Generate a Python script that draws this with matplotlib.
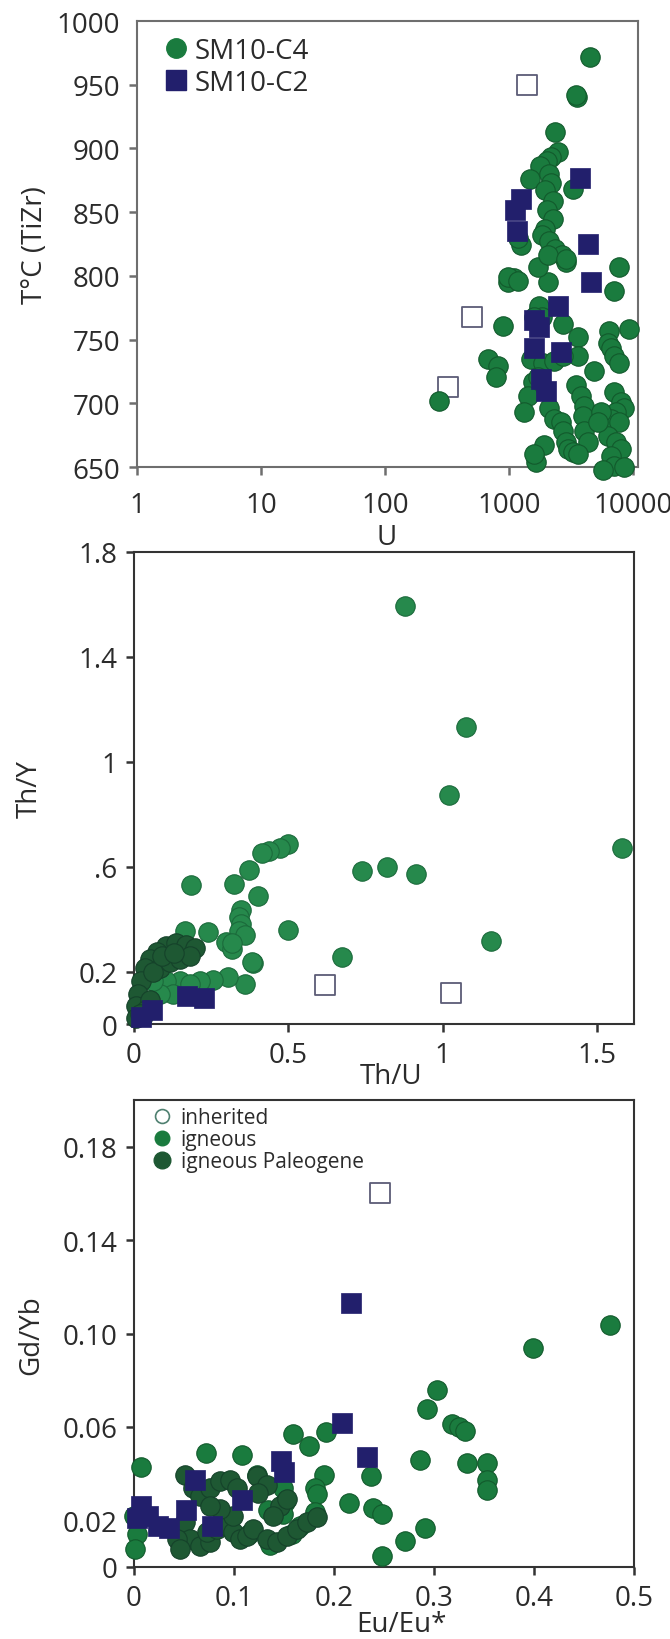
import matplotlib
matplotlib.use("Agg")
import matplotlib.pyplot as plt
from matplotlib.lines import Line2D
from matplotlib.ticker import NullLocator, FixedLocator, FixedFormatter

plt.rcParams['font.family'] = ['Open Sans', 'DejaVu Sans']

# ---------------- data ----------------
# Panel A: Ti-in-zircon temperature vs U (ppm)
c4_u = [4490, 3530, 3450, 2335, 2467, 2190, 2022, 1795, 1493, 2104, 2190, 1943, 3266,
        2280, 2022, 2280, 1943, 1866, 2104, 2371, 2673, 2897, 1253, 1180,
        985, 1097, 980, 1180, 2065, 1715, 2065, 2880, 7740, 7050,
        1715, 1745, 1860, 1590, 2730, 893, 3600, 9310,
        6430, 6310, 6670, 7050, 7740, 4860, 3600,
        675, 813, 783, 1500, 1880, 2310, 2730,
        1560, 1710, 1420, 1320, 271, 2100, 2310,
        3470, 3810, 4040, 3960, 4040, 4350,
        7050, 8030, 8490, 7310, 6670, 7740, 6310, 7310, 8030, 6670, 7050, 8490, 5740, 5530, 5240,
        2630, 2730, 2880, 2990, 3290, 3600, 1915, 1650, 1590]
c4_t = [972, 940, 942, 913, 897, 893, 890, 886, 876, 880, 873, 867, 868,
        859, 852, 845, 837, 832, 827, 821, 816, 811, 824, 830,
        795, 798, 799, 796, 795, 807, 816, 813, 807, 788,
        772, 776, 768, 768, 762, 761, 752, 758,
        757, 747, 743, 737, 732, 725, 737,
        735, 729, 721, 735, 732, 733, 737,
        717, 721, 706, 693, 702, 696, 688,
        714, 706, 698, 690, 678, 670,
        709, 701, 696, 693, 688, 685, 674, 670, 664, 659, 651, 650, 648, 693, 685,
        685, 678, 670, 664, 662, 660, 667, 654, 660]
c2_u = [3740, 1251, 1110, 1156, 4315, 4590, 2480, 1745, 1590, 1590, 2630, 1810, 1990]
c2_t = [877, 860, 852, 835, 825, 795, 776, 760, 765, 743, 740, 719, 710]
inh_u = [1390, 501, 321]
inh_t = [950, 768, 713]

# Panel B: Th/Y vs Th/U
ign_thu = [0.878, 1.077, 1.021, 1.581, 0.500, 0.472, 0.437, 0.416, 0.738, 0.819, 0.913,
           0.374, 0.185, 0.325, 0.402, 0.346, 0.339, 0.346, 0.339, 0.360, 0.297, 0.318,
           0.500, 0.241, 0.164, 1.158, 0.675, 0.384, 0.360, 0.304, 0.255, 0.213, 0.381,
           0.316, 0.148, 0.181, 0.105, 0.127, 0.083, 0.062]
ign_thy = [1.593, 1.131, 0.872, 0.673, 0.687, 0.673, 0.660, 0.653, 0.584, 0.600, 0.573,
           0.589, 0.531, 0.533, 0.487, 0.433, 0.407, 0.380, 0.353, 0.340, 0.313, 0.287,
           0.357, 0.349, 0.353, 0.317, 0.256, 0.233, 0.153, 0.180, 0.167, 0.164, 0.236,
           0.309, 0.164, 0.152, 0.164, 0.115, 0.115, 0.164]
pal_thu = [0.105, 0.137, 0.170, 0.197, 0.073, 0.051, 0.035, 0.024, 0.013, 0.008, 0.005,
           0.083, 0.116, 0.148, 0.181, 0.051, 0.040, 0.029, 0.020, 0.060, 0.090, 0.130]
pal_thy = [0.297, 0.309, 0.303, 0.291, 0.273, 0.248, 0.212, 0.164, 0.115, 0.067, 0.024,
           0.212, 0.236, 0.248, 0.261, 0.091, 0.055, 0.030, 0.040, 0.200, 0.260, 0.270]
c2_thu = [0.227, 0.171, 0.059, 0.024]
c2_thy = [0.100, 0.107, 0.053, 0.027]
inh_thu = [0.619, 1.028]
inh_thy = [0.147, 0.117]

# Panel C: Gd/Yb vs Eu/Eu*
ign_eu = [0.476, 0.399, 0.303, 0.293, 0.318, 0.325, 0.331, 0.286, 0.333, 0.353, 0.353, 0.353,
          0.291, 0.271, 0.248, 0.239, 0.248, 0.215, 0.237, 0.192, 0.175, 0.159, 0.190, 0.181,
          0.183, 0.181, 0.166, 0.158, 0.108, 0.072, 0.007, 0.123, 0.149, 0.151, 0.149, 0.134,
          0.136, 0.115, 0.003, 0.001, 0.000]
ign_gd = [0.1037, 0.0940, 0.0759, 0.0675, 0.0612, 0.0599, 0.0582, 0.0460, 0.0444, 0.0447, 0.0371, 0.0329,
          0.0169, 0.0110, 0.0046, 0.0253, 0.0228, 0.0275, 0.0388, 0.0577, 0.0518, 0.0568, 0.0396, 0.0337,
          0.0312, 0.0236, 0.0177, 0.0143, 0.0481, 0.0489, 0.0430, 0.0396, 0.0337, 0.0278, 0.0228, 0.0245,
          0.0093, 0.0143, 0.0143, 0.0076, 0.0220]
pal_eu = [0.051, 0.059, 0.066, 0.076, 0.086, 0.096, 0.103, 0.123, 0.133, 0.124,
          0.051, 0.056, 0.066, 0.076, 0.073, 0.083, 0.093, 0.099, 0.106, 0.113, 0.119,
          0.133, 0.143, 0.153, 0.163, 0.173, 0.183, 0.146, 0.153, 0.139,
          0.099, 0.086, 0.076, 0.043, 0.046]
pal_gd = [0.0393, 0.0337, 0.0306, 0.0337, 0.0367, 0.0371, 0.0337, 0.0388, 0.0350, 0.0315,
          0.0194, 0.0121, 0.0091, 0.0108, 0.0151, 0.0164, 0.0177, 0.0151, 0.0121, 0.0134, 0.0164,
          0.0121, 0.0108, 0.0134, 0.0164, 0.0194, 0.0216, 0.0263, 0.0293, 0.0220,
          0.0220, 0.0250, 0.0263, 0.0121, 0.0078]
c2_eu = [0.217, 0.208, 0.233, 0.147, 0.150, 0.108, 0.061, 0.052, 0.078, 0.007, 0.003, 0.014, 0.024, 0.035]
c2_gd = [0.113, 0.0616, 0.0472, 0.0455, 0.0405, 0.0287, 0.0371, 0.0245, 0.0177, 0.026, 0.021, 0.0219, 0.0177, 0.0169]
inh_eu = [0.246]
inh_gd = [0.160]

# tick labels
t_ticks = [650, 700, 750, 800, 850, 900, 950, 1000]
u_ticks = [1, 10, 100, 1000, 10000]
thy_ticks = [0, 0.2, 0.6, 1.0, 1.4, 1.8]
thy_labels = ['0', '0.2', '.6', '1', '1.4', '1.8']
thu_ticks = [0, 0.5, 1.0, 1.5]
thu_labels = ['0', '0.5', '1', '1.5']
gd_ticks = [0, 0.02, 0.06, 0.10, 0.14, 0.18]
gd_labels = ['0', '0.02', '0.06', '0.10', '0.14', '0.18']
eu_ticks = [0, 0.1, 0.2, 0.3, 0.4, 0.5]
eu_labels = ['0', '0.1', '0.2', '0.3', '0.4', '0.5']

# ---------------- style ----------------
GREEN = '#1a7b3e'
GREEN_EDGE = '#125a2c'
GREEN_B = '#26894c'
DARK = '#1e5833'
DARK_EDGE = '#15422a'
NAVY = '#221f6c'
HOLLOW = '#5c5c76'
TXT = '#2b2b2b'
FS = 20
MS = 14.0  # marker size in points

W, H = 670, 1640
fig = plt.figure(figsize=(W / 100, H / 100), dpi=100)


def rect(x0, y0, x1, y1):
    return [x0 / W, 1 - y1 / H, (x1 - x0) / W, (y1 - y0) / H]


def style(ax, frame):
    for s in ax.spines.values():
        s.set_color(frame)
        s.set_linewidth(1.5)
    ax.tick_params(axis='both', direction='out', length=6, width=1.8, color=frame,
                   labelsize=FS, labelcolor=TXT, pad=6)
    ax.tick_params(top=False, right=False)


def points(ax, x, y, **kw):
    ax.scatter(x, y, s=MS ** 2, clip_on=False, **kw)


# Panel A
ax1 = fig.add_axes(rect(137, 22, 638, 468))
points(ax1, inh_u, inh_t, marker='s', facecolors='white', edgecolors=HOLLOW,
       linewidths=1.3, zorder=2)
points(ax1, c4_u, c4_t, marker='o', color=GREEN, edgecolors=GREEN_EDGE,
       linewidths=0.8, zorder=3)
points(ax1, c2_u, c2_t, marker='s', color=NAVY, edgecolors=NAVY, linewidths=0.5, zorder=4)
ax1.set_xscale('log')
ax1.set_xlim(1, 11000)
ax1.set_ylim(650, 1000)
ax1.xaxis.set_major_locator(FixedLocator(u_ticks))
ax1.xaxis.set_major_formatter(FixedFormatter([str(v) for v in u_ticks]))
ax1.xaxis.set_minor_locator(NullLocator())
ax1.set_yticks(t_ticks)
ax1.set_yticklabels([str(v) for v in t_ticks])
style(ax1, '#6e6e6e')
ax1.tick_params(axis='x', pad=11)
ax1.yaxis.get_major_ticks()[-1].tick1line.set_visible(False)
leg1 = ax1.legend(handles=[
    Line2D([], [], marker='o', ls='none', color=GREEN, markersize=MS, label='SM10-C4'),
    Line2D([], [], marker='s', ls='none', color=NAVY, markersize=MS, label='SM10-C2')],
    loc='upper left', bbox_to_anchor=(0.055, 0.965), frameon=False, fontsize=FS,
    handlelength=0.8, handletextpad=0.3, labelspacing=0.15, borderpad=0, borderaxespad=0)
for t in leg1.get_texts():
    t.set_color(TXT)
fig.text(35 / W, 1 - 245 / H, 'T°C (TiZr)', rotation=90, ha='center', va='center',
         fontsize=FS, color=TXT)
fig.text(387 / W, 1 - 538 / H, 'U', ha='center', va='center', fontsize=FS, color=TXT)

# Panel B
ax2 = fig.add_axes(rect(134, 553, 634, 1025))
points(ax2, inh_thu, inh_thy, marker='s', facecolors='white', edgecolors=HOLLOW,
       linewidths=1.3, zorder=2)
points(ax2, ign_thu, ign_thy, marker='o', color=GREEN_B, edgecolors='#1b6a3b',
       linewidths=0.8, zorder=3)
points(ax2, pal_thu, pal_thy, marker='o', color=DARK, edgecolors=DARK_EDGE,
       linewidths=0.8, zorder=3)
points(ax2, c2_thu, c2_thy, marker='s', color=NAVY, edgecolors=NAVY, linewidths=0.5, zorder=4)
ax2.set_xlim(0, 1.62)
ax2.set_ylim(0, 1.8)
ax2.set_xticks(thu_ticks)
ax2.set_xticklabels(thu_labels)
ax2.set_yticks(thy_ticks)
ax2.set_yticklabels(thy_labels)
style(ax2, '#333333')
fig.text(30 / W, 1 - 789 / H, 'Th/Y', rotation=90, ha='center', va='center',
         fontsize=FS, color=TXT)
fig.text(391 / W, 1 - 1077 / H, 'Th/U', ha='center', va='center', fontsize=FS, color=TXT)

# Panel C
ax3 = fig.add_axes(rect(134, 1101, 634, 1568))
points(ax3, inh_eu, inh_gd, marker='s', facecolors='white', edgecolors=HOLLOW,
       linewidths=1.3, zorder=2)
points(ax3, ign_eu, ign_gd, marker='o', color=GREEN, edgecolors=GREEN_EDGE,
       linewidths=0.8, zorder=3)
points(ax3, pal_eu, pal_gd, marker='o', color=DARK, edgecolors=DARK_EDGE,
       linewidths=0.8, zorder=3)
points(ax3, c2_eu, c2_gd, marker='s', color=NAVY, edgecolors=NAVY, linewidths=0.5, zorder=4)
ax3.set_xlim(0, 0.5)
ax3.set_ylim(0, 0.2)
ax3.set_xticks(eu_ticks)
ax3.set_xticklabels(eu_labels)
ax3.set_yticks(gd_ticks)
ax3.set_yticklabels(gd_labels)
style(ax3, '#333333')
leg3 = ax3.legend(handles=[
    Line2D([], [], marker='o', ls='none', markerfacecolor='white', markeredgecolor='#4f8070',
           markeredgewidth=1.2, markersize=10, label='inherited'),
    Line2D([], [], marker='o', ls='none', color=GREEN, markersize=10.5, label='igneous'),
    Line2D([], [], marker='o', ls='none', color=DARK, markersize=12, label='igneous Paleogene')],
    loc='upper left', bbox_to_anchor=(0.035, 0.985), frameon=False, fontsize=15,
    handlelength=1.0, handletextpad=0.4, labelspacing=0.05, borderpad=0, borderaxespad=0)
for t in leg3.get_texts():
    t.set_color(TXT)
fig.text(31 / W, 1 - 1335 / H, 'Gd/Yb', rotation=90, ha='center', va='center',
         fontsize=FS, color=TXT)
fig.text(401 / W, 1 - 1625 / H, 'Eu/Eu*', ha='center', va='center', fontsize=FS, color=TXT)

fig.savefig('out.png', dpi=100)
